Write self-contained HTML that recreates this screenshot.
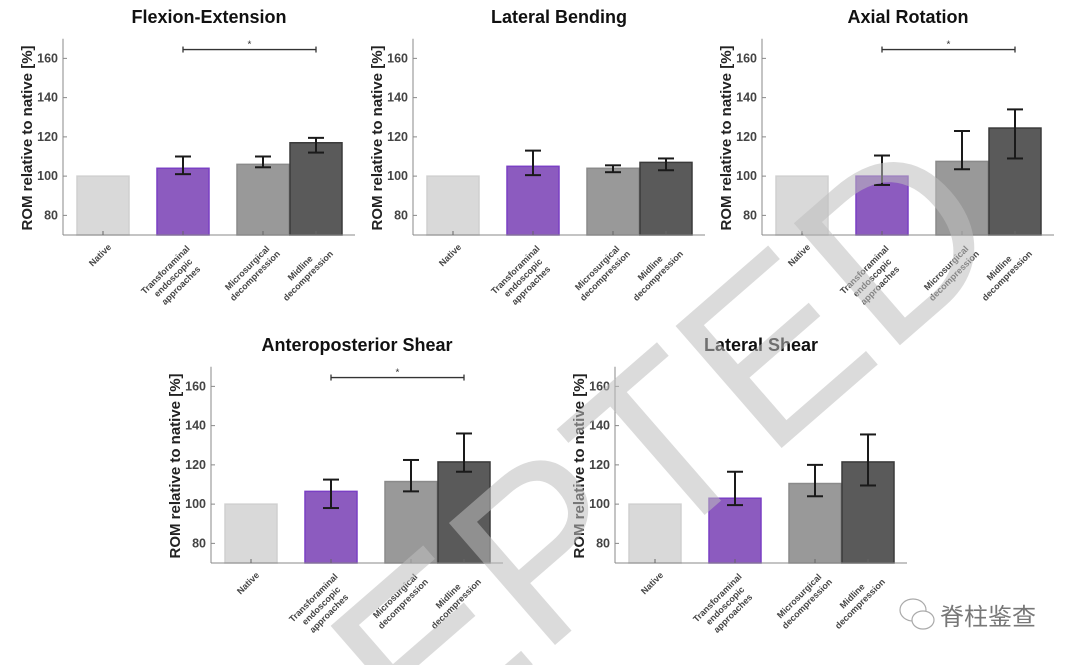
<!DOCTYPE html>
<html><head><meta charset="utf-8"><style>
html,body{margin:0;padding:0;background:#fff;width:1080px;height:665px;overflow:hidden;}
svg{display:block;font-family:"Liberation Sans",sans-serif;overflow:hidden;}
</style></head><body>
<svg id="fig" width="1080" height="665" viewBox="0 0 1080 665" xmlns="http://www.w3.org/2000/svg">
<defs><clipPath id="frame"><rect x="0" y="0" width="1080" height="665"/></clipPath></defs>
</svg>
<script>
const categories = [["Native"],["Transforaminal","endoscopic","approaches"],["Microsurgical","decompression"],["Midline","decompression"]];
const titles = ["Flexion-Extension","Lateral Bending","Axial Rotation","Anteroposterior Shear","Lateral Shear"];
const meanFE = [100,104,106,117];
const lowFE = [100,101,104.5,112];
const highFE = [100,110,110,119.5];
const meanLB = [100,105,104,107];
const lowLB = [100,100.5,102,103];
const highLB = [100,113,105.5,109];
const meanAR = [100,100,107.5,124.5];
const lowAR = [100,95.5,103.5,109];
const highAR = [100,110.5,123,134];
const meanAP = [100,106.5,111.5,121.5];
const lowAP = [100,98,106.5,116.5];
const highAP = [100,112.5,122.5,136];
const meanLS = [100,103,110.5,121.5];
const lowLS = [100,99.5,104,109.5];
const highLS = [100,116.5,120,135.5];
const significant = [true,false,true,true,false];
const yTicks = [80,100,120,140,160];
const yMin = 70, yMax = 170;

const NS="http://www.w3.org/2000/svg";
const svg=document.getElementById('fig');
function mk(tag,attrs,parent){const e=document.createElementNS(NS,tag);for(const k in attrs)e.setAttribute(k,attrs[k]);(parent||svg).appendChild(e);return e;}

const panels=[
 {x0:63,base:235,mean:meanFE,low:lowFE,high:highFE},
 {x0:413,base:235,mean:meanLB,low:lowLB,high:highLB},
 {x0:762,base:235,mean:meanAR,low:lowAR,high:highAR},
 {x0:211,base:563,mean:meanAP,low:lowAP,high:highAP},
 {x0:615,base:563,mean:meanLS,low:lowLS,high:highLS}
];
const slots=[40,120,200,253];
const barW=52;
const fills=["#d9d9d9","#8c5bbf","#999999","#5a5a5a"];
const strokes=["#d0d0d0","#7a3fc4","#8a8a8a","#3a3a3a"];
const PX=1.9625;

panels.forEach((p,pi)=>{
  const g=mk('g',{});
  
  
  const yS=v=>p.base-(v-yMin)*PX;
  const xS=i=>p.x0+slots[i];
  const axisLen=292;
  const t=mk('text',{x:p.x0+146,y:(p.base-235)+23,'text-anchor':'middle','font-size':18,'font-weight':'bold',fill:'#111'},g);
  t.textContent=titles[pi];
  
  
  p.mean.forEach((v,i)=>{
    const r=mk('rect',{x:xS(i)-barW/2,y:yS(v),width:barW,height:yS(yMin)-yS(v),fill:fills[i],stroke:strokes[i],'stroke-width':1.5},g);
    
    
  });
  const ya=mk('line',{x1:p.x0,y1:yS(yMax),x2:p.x0,y2:p.base,stroke:'#888','stroke-width':1},g);
  
  
  const xa=mk('line',{x1:p.x0,y1:p.base,x2:p.x0+axisLen,y2:p.base,stroke:'#888','stroke-width':1},g);
  
  
  yTicks.forEach(tv=>{
    mk('line',{x1:p.x0,y1:yS(tv),x2:p.x0+4,y2:yS(tv),stroke:'#888'},g);
    const tl=mk('text',{x:p.x0-5,y:yS(tv)+4,'text-anchor':'end','font-size':12.5,'font-weight':'bold',fill:'#444'},g);
    tl.textContent=tv;
    
    
  });
  const yl=mk('text',{x:0,y:0,'text-anchor':'middle','font-size':15,'font-weight':'bold',fill:'#222',transform:`translate(${p.x0-31},${p.base-97}) rotate(-90)`},g);
  yl.textContent='ROM relative to native [%]';
  
  
  categories.forEach((lines,i)=>{
    mk('line',{x1:xS(i),y1:p.base,x2:xS(i),y2:p.base-4,stroke:'#666'},g);
    const maxLen=Math.max(...lines.map(s=>s.length));
    const W=maxLen*5.2;
    const lg=mk('g',{transform:`translate(${xS(i)+6},${p.base+7}) rotate(-45)`},g);
    
    
    lines.forEach((s,li)=>{
      const tx=mk('text',{x:-W/2,y:6+li*11,'text-anchor':'middle','font-size':9,'font-weight':'bold',fill:'#444'},lg);
      tx.textContent=s;
    });
  });
  p.mean.forEach((v,i)=>{
    if(p.high[i]===p.low[i])return;
    const eg=mk('g',{stroke:'#1a1a1a','stroke-width':2},g);
    
    
    mk('line',{x1:xS(i),y1:yS(p.low[i]),x2:xS(i),y2:yS(p.high[i])},eg);
    mk('line',{x1:xS(i)-8,y1:yS(p.low[i]),x2:xS(i)+8,y2:yS(p.low[i])},eg);
    mk('line',{x1:xS(i)-8,y1:yS(p.high[i]),x2:xS(i)+8,y2:yS(p.high[i])},eg);
  });
  if(significant[pi]){
    const sy=yS(164.5);
    const sg=mk('g',{stroke:'#333','stroke-width':1.3},g);
    
    
    mk('line',{x1:xS(1),y1:sy,x2:xS(3),y2:sy},sg);
    mk('line',{x1:xS(1),y1:sy-3,x2:xS(1),y2:sy+3},sg);
    mk('line',{x1:xS(3),y1:sy-3,x2:xS(3),y2:sy+3},sg);
    const st=mk('text',{x:(xS(1)+xS(3))/2,y:sy-2,'text-anchor':'middle','font-size':10,fill:'#333'},g);
    st.textContent='*';
    
    
  }
});

const wmg=mk('g',{'clip-path':'url(#frame)'});


const wm=mk('text',{x:0,y:0,'text-anchor':'end','dominant-baseline':'central','font-size':235,fill:'#bdbdbd','fill-opacity':0.55,transform:'translate(960,185) rotate(-41)'},wmg);
wm.textContent='EPTED';



const lg=mk('g',{fill:'none',stroke:'#aaa','stroke-width':1.2});


mk('ellipse',{cx:913,cy:610,rx:13,ry:11},lg);
mk('ellipse',{cx:923,cy:620,rx:11,ry:9,fill:'#fff'},lg);
const wt=mk('text',{x:940,y:625,'font-size':24,fill:'#777','font-family':'"Liberation Sans","Noto Sans CJK SC",sans-serif'});
wt.textContent='脊柱鉴查';


</script>
</body></html>
